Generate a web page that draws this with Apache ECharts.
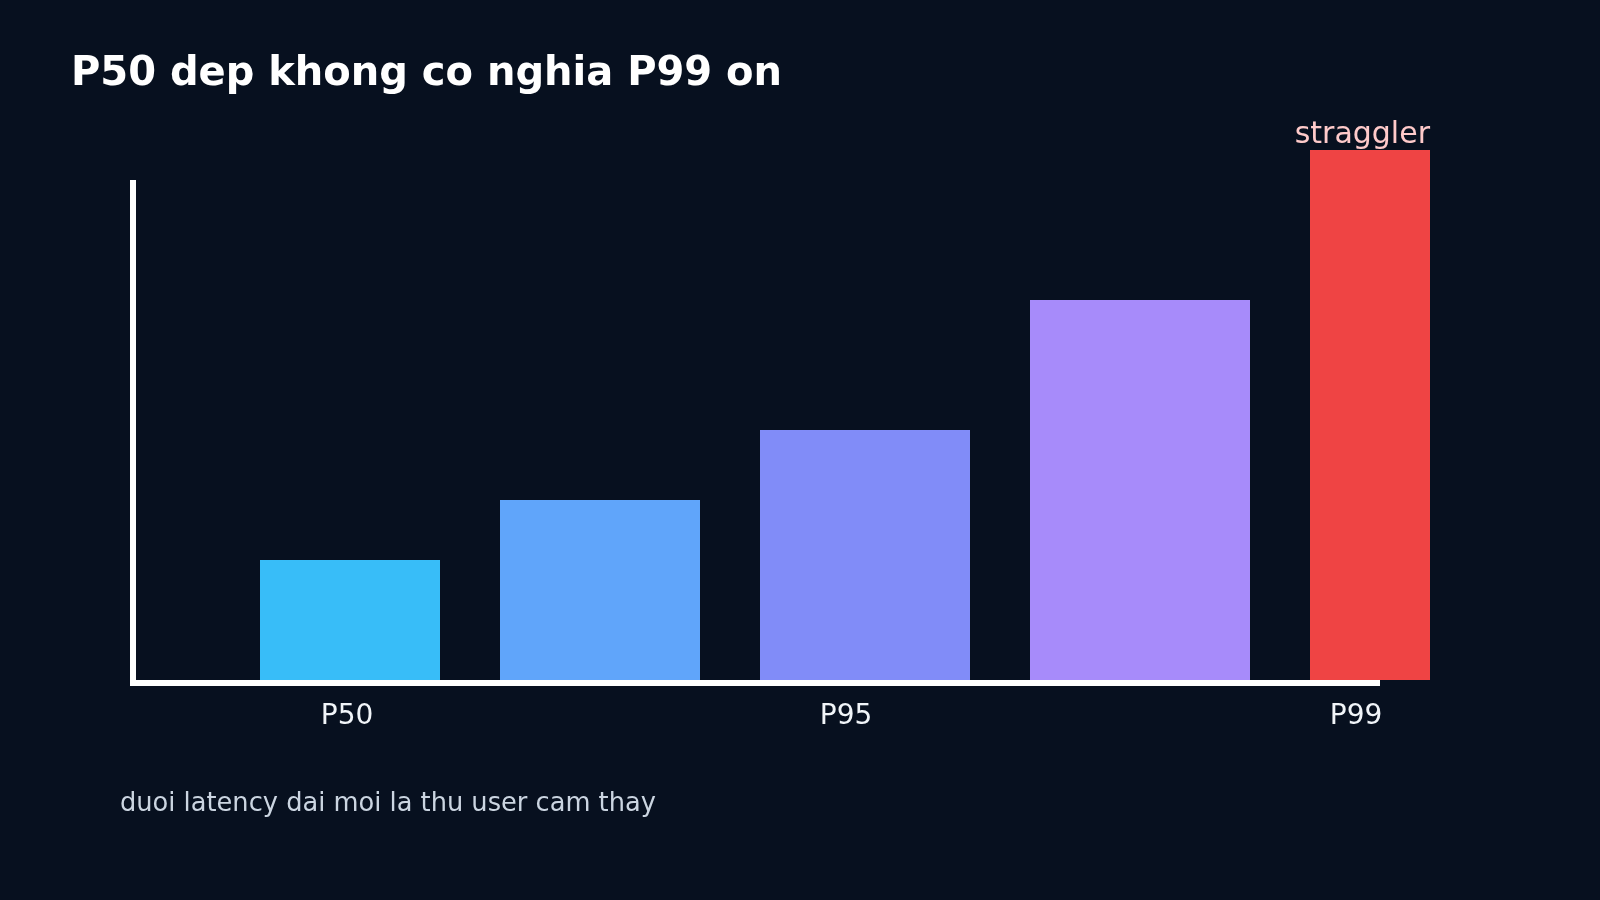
<!DOCTYPE html>
<html>
<head>
<meta charset="utf-8">
<script src="https://cdn.jsdelivr.net/npm/echarts@6/dist/echarts.min.js"></script>
<style>
  html, body { margin: 0; padding: 0; background: #07101f; }
  #chart { width: 1600px; height: 900px; }
</style>
</head>
<body>
<div id="chart"></div>
<script>
// percentile latency bars: each bar spans [start, end] on the x scale
var barStarts = [13, 37, 63, 90, 118];
var barEnds = [31, 57, 84, 112, 130];
var latency = [12, 18, 25, 38, 53];
var tickPos = [21.7, 71.6, 122.6];
var tickLabels = ['P50', 'P95', 'P99'];
var flagLabel = 'straggler';

var barColors = ['#38bdf8', '#60a5fa', '#818cf8', '#a78bfa', '#ef4444'];
var font = 'DejaVu Sans';

var chart = echarts.init(document.getElementById('chart'), null, { renderer: 'canvas' });

var barData = latency.map(function(v, i) {
  return [barStarts[i], barEnds[i], v];
});

chart.setOption({
  animation: false,
  backgroundColor: '#07101f',
  title: [{
    text: 'P50 dep khong co nghia P99 on',
    left: 66,
    top: 50,
    textStyle: { color: '#ffffff', fontSize: 40, fontWeight: 'bold', fontFamily: font }
  }, {
    text: 'duoi latency dai moi la thu user cam thay',
    left: 115,
    top: 786,
    textStyle: { color: '#cbd5e1', fontSize: 25.7, fontWeight: 'normal', fontFamily: font }
  }],
  grid: { left: 130, right: 220, top: 180, bottom: 220 },
  xAxis: {
    type: 'value',
    min: 0,
    max: 125,
    offset: 3,
    splitLine: { show: false },
    axisTick: { show: false },
    axisLine: { show: true, onZero: false, lineStyle: { color: '#ffffff', width: 6, cap: 'butt' } },
    axisLabel: {
      customValues: tickPos,
      formatter: function(v) {
        var i = tickPos.indexOf(v);
        return i >= 0 ? tickLabels[i] : '';
      },
      color: '#f1f5f9',
      fontSize: 28,
      fontFamily: font,
      margin: 20
    }
  },
  yAxis: {
    type: 'value',
    min: 0,
    max: 50,
    offset: -3,
    splitLine: { show: false },
    axisTick: { show: false },
    axisLabel: { show: false },
    axisLine: { show: true, lineStyle: { color: '#ffffff', width: 6, cap: 'butt' } }
  },
  series: [{
    type: 'custom',
    clip: false,
    encode: { x: [0, 1], y: 2 },
    data: barData,
    renderItem: function(params, api) {
      var topLeft = api.coord([api.value(0), api.value(2)]);
      var bottomRight = api.coord([api.value(1), 0]);
      var children = [{
        type: 'rect',
        shape: {
          x: topLeft[0],
          y: topLeft[1],
          width: bottomRight[0] - topLeft[0],
          height: bottomRight[1] - topLeft[1]
        },
        style: { fill: barColors[params.dataIndex] }
      }];
      if (params.dataIndex === latency.length - 1) {
        children.push({
          type: 'text',
          style: {
            text: flagLabel,
            x: bottomRight[0],
            y: topLeft[1] - 15,
            align: 'right',
            verticalAlign: 'middle',
            fill: '#fecaca',
            fontSize: 30,
            fontFamily: font
          }
        });
      }
      return { type: 'group', children: children };
    }
  }]
});

window.addEventListener('resize', function() { chart.resize(); });
</script>
</body>
</html>
